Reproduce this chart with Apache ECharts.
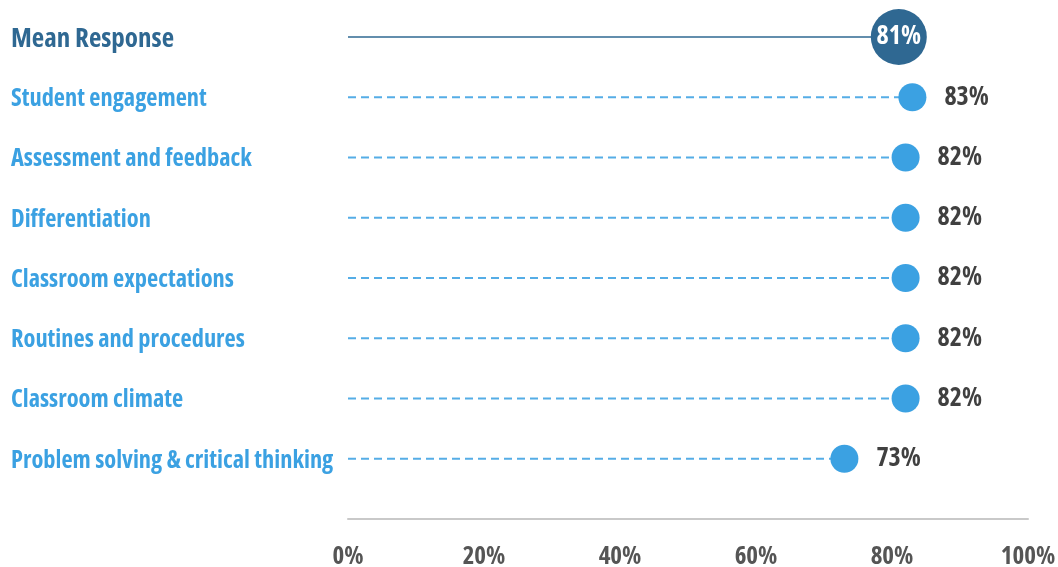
<!DOCTYPE html>
<html>
<head>
<meta charset="utf-8">
<script src="https://cdn.jsdelivr.net/npm/echarts@6/dist/echarts.min.js"></script>
<style>
  html, body { margin: 0; padding: 0; background: #fff; }
  #chart { width: 1058px; height: 567px; }
</style>
</head>
<body>
<div id="chart"></div>
<script>
// row labels, top to bottom (first one is the mean, last slot is empty space above the axis)
var categories = ['Mean Response', 'Student engagement', 'Assessment and feedback', 'Differentiation',
  'Classroom expectations', 'Routines and procedures', 'Classroom climate', 'Problem solving & critical thinking', ''];
var meanValue = 81;
var itemValues = [83, 82, 82, 82, 82, 82, 73];
var xTicks = [0, 20, 40, 60, 80, 100];

var FONT = "'Open Sans', sans-serif";
var WEIGHT = 'bold condensed';
var DARK = '#2f6892';
var LIGHT = '#3ba1e2';
var DASH = '#55ade6';

var chart = echarts.init(document.getElementById('chart'));

var itemData = itemValues.map(function (v, i) { return [v, i + 1]; });

function stemSeries(data, color, dashed, width) {
  return {
    type: 'custom',
    silent: true,
    z: 1,
    renderItem: function (params, api) {
      var a = api.coord([0, api.value(1)]);
      var b = api.coord([api.value(0), api.value(1)]);
      return {
        type: 'line',
        shape: { x1: a[0], y1: a[1], x2: b[0], y2: b[1] },
        style: { stroke: color, lineWidth: width, lineDash: dashed ? [8, 5] : null }
      };
    },
    data: data
  };
}

chart.setOption({
  animation: false,
  grid: { left: 348, right: 30, top: 37, bottom: 48, outerBoundsMode: 'none' },
  xAxis: {
    type: 'value',
    min: 0,
    max: 100,
    interval: 20,
    axisLine: { show: true, lineStyle: { color: '#c9c9c9', width: 2 } },
    axisTick: { show: false },
    splitLine: { show: false },
    axisLabel: {
      margin: 25,
      formatter: function (v) { return xTicks.indexOf(v) > -1 ? v + '%' : ''; },
      color: '#555',
      fontFamily: FONT,
      fontWeight: WEIGHT,
      fontSize: 25
    }
  },
  yAxis: {
    type: 'category',
    inverse: true,
    boundaryGap: false,
    data: categories,
    axisLine: { show: false },
    axisTick: { show: false },
    splitLine: { show: false },
    axisLabel: {
      align: 'left',
      margin: 337,
      formatter: function (v, i) { return i === 0 ? '{m|' + v + '}' : '{c|' + v + '}'; },
      rich: {
        m: { color: DARK, fontFamily: FONT, fontWeight: WEIGHT, fontSize: 27, padding: [5, 0, 0, 0] },
        c: { color: LIGHT, fontFamily: FONT, fontWeight: WEIGHT, fontSize: 24.4, padding: [4, 0, 0, 0] }
      }
    }
  },
  series: [
    stemSeries([[meanValue, 0]], DARK, false, 1.5),
    stemSeries(itemData, DASH, true, 2),
    {
      type: 'scatter',
      clip: false,
      z: 3,
      symbolSize: 56,
      itemStyle: { color: DARK, opacity: 1 },
      label: {
        show: true,
        position: 'inside',
        formatter: function (p) { return p.value[0] + '%'; },
        color: '#fff',
        fontFamily: FONT,
        fontWeight: WEIGHT,
        fontSize: 26,
        padding: [3, 0, 0, 0]
      },
      data: [[meanValue, 0]]
    },
    {
      type: 'scatter',
      clip: false,
      z: 3,
      symbolSize: 28,
      itemStyle: { color: LIGHT, opacity: 1 },
      label: {
        show: true,
        position: 'right',
        distance: 18,
        formatter: function (p) { return p.value[0] + '%'; },
        color: '#404040',
        fontFamily: FONT,
        fontWeight: WEIGHT,
        fontSize: 26,
        padding: [3, 0, 0, 0]
      },
      data: itemData
    }
  ]
});

window.addEventListener('resize', function () { chart.resize(); });
</script>
</body>
</html>
